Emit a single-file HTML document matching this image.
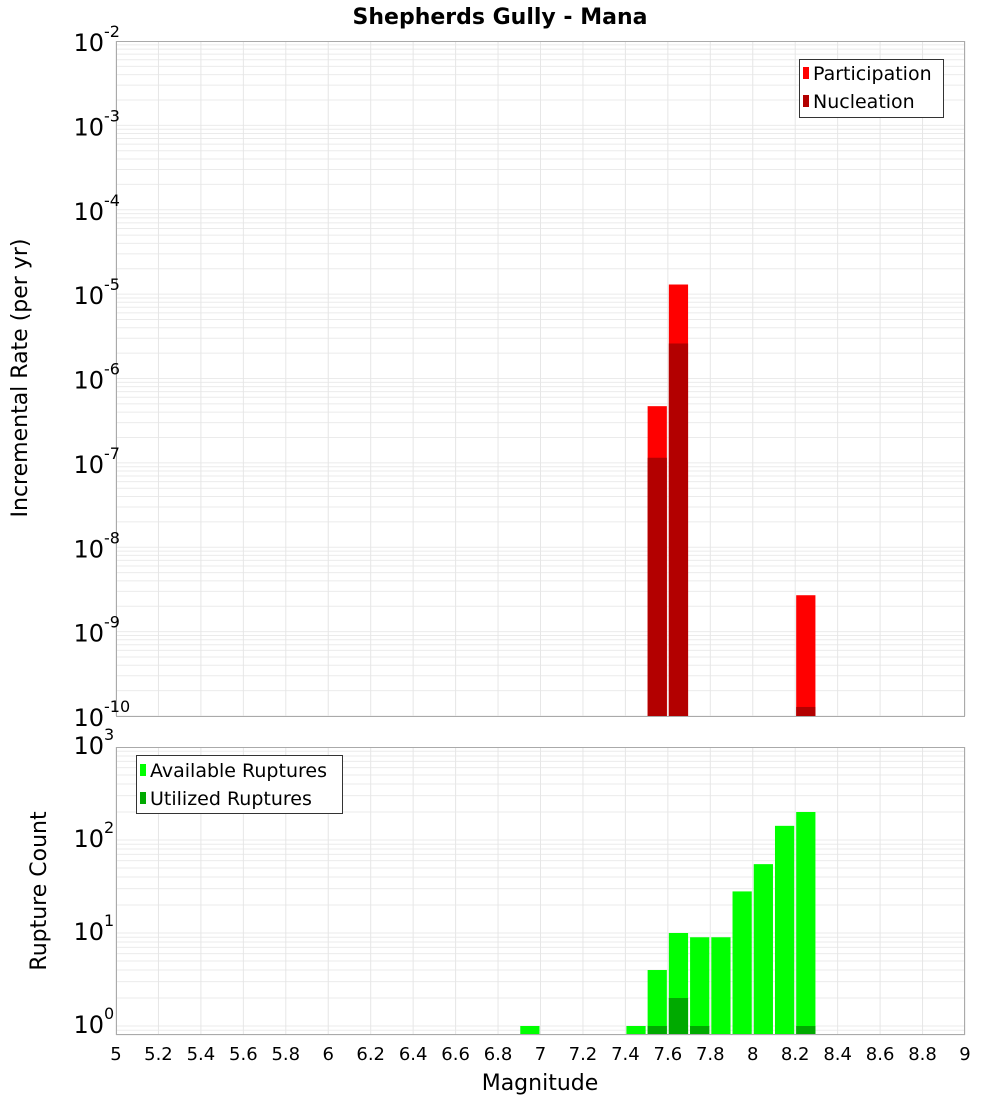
<!DOCTYPE html>
<html><head><meta charset="utf-8"><style>
body{margin:0;background:#fff;}
svg text{font-family:"DejaVu Sans","Liberation Sans",sans-serif;}
</style></head><body>
<svg id="chart" width="1000" height="1100" xmlns="http://www.w3.org/2000/svg">
<text x="500" y="24" text-anchor="middle" font-size="22" font-weight="bold">Shepherds Gully - Mana</text>
<g id="topPanel"></g><g id="botPanel"></g>
<text transform="translate(27,378) rotate(-90)" text-anchor="middle" font-size="22">Incremental Rate (per yr)</text>
<text transform="translate(46,891) rotate(-90)" text-anchor="middle" font-size="22">Rupture Count</text>
<text x="540" y="1090" text-anchor="middle" font-size="22">Magnitude</text>
<g>
<rect x="799.5" y="59.5" width="144" height="58" fill="#fff" stroke="#333"/>
<rect x="803" y="67" width="6" height="12" fill="#ff0000"/>
<text x="813" y="80" font-size="19">Participation</text>
<rect x="803" y="95" width="6" height="12" fill="#b30000"/>
<text x="813" y="108" font-size="19">Nucleation</text>
</g>
<g>
<rect x="136.5" y="755.5" width="206" height="58" fill="#fff" stroke="#333"/>
<rect x="140" y="764" width="6" height="12" fill="#00ff00"/>
<text x="150" y="777" font-size="19">Available Ruptures</text>
<rect x="140" y="792" width="6" height="12" fill="#00aa00"/>
<text x="150" y="805" font-size="19">Utilized Ruptures</text>
</g>
</svg>
<script>
const magBins=[7.55,7.65,8.25];
const participation=[4.7e-7,1.3e-5,2.7e-9];
const nucleation=[1.15e-7,2.6e-6,1.28e-10];
const countBins=[6.95,7.45,7.55,7.65,7.75,7.85,7.95,8.05,8.15,8.25];
const available=[1,1,4,10,9,9,28,55,142,200];
const utilizedBins=[7.55,7.65,7.75,8.25];
const utilized=[1,2,1,1];
const xTicks=[5,5.2,5.4,5.6,5.8,6,6.2,6.4,6.6,6.8,7,7.2,7.4,7.6,7.8,8,8.2,8.4,8.6,8.8,9];

const NS="http://www.w3.org/2000/svg";
const X0=116,X1=965;
const xs=m=>X0+(m-5)/4*(X1-X0);
const topY=v=>41+(-2-Math.log10(v))*84.375;
const botY=v=>1026-Math.log10(v)*93;
function mk(p,tag,a){const e=document.createElementNS(NS,tag);for(const k in a)e.setAttribute(k,a[k]);p.appendChild(e);return e;}
const topG=document.getElementById('topPanel'),botG=document.getElementById('botPanel');

function panel(g,yt,yb,yf,dmin,dmax,lo,hi){
  mk(g,'rect',{x:X0,y:yt,width:X1-X0,height:yb-yt,fill:'#fff'});
  for(let d=dmin;d<=dmax;d++)for(let k=1;k<10;k++){const v=k*Math.pow(10,d);if(v<lo||v>hi)continue;const yy=yf(v);
    const l=mk(g,'line',{x1:X0,x2:X1,y1:yy,y2:yy,stroke:'#ebebeb','stroke-width':1});
    
    }
  xTicks.forEach(t=>{const l=mk(g,'line',{x1:xs(t),x2:xs(t),y1:yt,y2:yb,stroke:'#e6e6e6','stroke-width':1});
    
    });
}
function bar(g,m,v,yf,base,fill,name){const y=yf(v);const r=mk(g,'rect',{x:xs(m-0.05)+1,y:y,width:xs(5.1)-X0-2,height:Math.max(0,base-y),fill:fill});
  
  }
function ylab(g,exp,yy){const t=mk(g,'text',{x:104,y:yy,'text-anchor':'end','font-size':24});t.textContent='10';
  
  
  const s=mk(g,'text',{x:104,y:yy-14,'font-size':16});s.textContent=String(exp);
  
  }

panel(topG,41,716,topY,-10,-3,1e-10,1e-2);
magBins.forEach((m,i)=>bar(topG,m,participation[i],topY,716,'#ff0000','bar-participation'));
magBins.forEach((m,i)=>bar(topG,m,nucleation[i],topY,716,'#b30000','bar-nucleation'));
mk(topG,'rect',{x:X0+0.5,y:41.5,width:X1-X0-1,height:675,fill:'none',stroke:'#aaa'});
for(let e=-2;e>=-10;e--)ylab(topG,e,topY(Math.pow(10,e))+10);

panel(botG,747,1035,botY,-1,2,0.8,1000);
countBins.forEach((m,i)=>bar(botG,m,available[i],botY,1035,'#00ff00','bar-available'));
utilizedBins.forEach((m,i)=>bar(botG,m,utilized[i],botY,1035,'#00aa00','bar-utilized'));
mk(botG,'rect',{x:X0+0.5,y:747.5,width:X1-X0-1,height:287,fill:'none',stroke:'#aaa'});
for(let e=0;e<=3;e++)ylab(botG,e,botY(Math.pow(10,e))+7);
xTicks.forEach(t=>{const l=mk(botG,'text',{x:xs(t),y:1060,'text-anchor':'middle','font-size':18});l.textContent=String(t);
  
  });
</script>
</body></html>
